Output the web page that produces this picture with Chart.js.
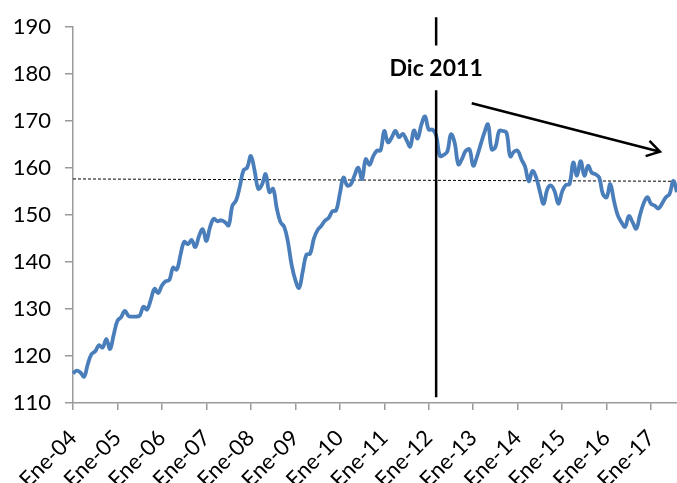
<!DOCTYPE html>
<html>
<head>
<meta charset="utf-8">
<script src="https://cdn.jsdelivr.net/npm/chart.js@4.4.1/dist/chart.umd.min.js"></script>
<style>
  html, body { margin: 0; padding: 0; background: #fff; overflow: hidden; }
</style>
</head>
<body>
<canvas id="grafico" width="677" height="483"></canvas>
<script>
// --- DATOS ---
const meses = ['Ene', 'Feb', 'Mar', 'Abr', 'May', 'Jun', 'Jul', 'Ago', 'Sep', 'Oct', 'Nov', 'Dic'];
const anios = ['04', '05', '06', '07', '08', '09', '10', '11', '12', '13', '14', '15', '16', '17'];
const ultimoMes = 7; // Ago-17

// índice mensual (Ene-04 .. Ago-17)
const valores = [
    116.3, 116.9, 116.5, 115.6, 118.3, 120.4, 121.0, 122.3, 121.8, 123.6, 121.5, 124.6,
    127.5, 128.3, 129.6, 128.5, 128.4, 128.4, 128.6, 130.5, 129.9, 132.0, 134.3, 133.4,
    135.0, 135.9, 136.2, 138.8, 138.4, 141.5, 144.3, 143.8, 144.7, 143.2, 145.5, 147.0,
    144.5, 147.5, 149.2, 148.7, 148.9, 148.5, 147.8, 152.0, 153.1, 156.0, 159.5, 160.1,
    162.6, 159.5, 155.6, 156.5, 158.7, 154.9, 155.6, 151.4, 148.5, 147.5, 144.3, 139.4,
    136.2, 134.5, 138.0, 141.6, 141.8, 145.0, 146.8, 147.7, 148.8, 149.4, 150.8, 151.0,
    154.5, 158.0, 156.3, 156.6, 158.5, 160.1, 157.7, 161.9, 160.7, 162.5, 163.7, 163.8,
    167.9, 165.5, 166.5, 167.9, 166.6, 167.3, 166.0, 164.6, 168.0, 166.3, 169.2, 171.0,
    168.2, 168.2, 167.0, 162.6, 162.8, 163.5, 167.2, 165.4, 160.8, 162.0, 163.7, 164.0,
    160.5, 162.4, 165.0, 167.5, 169.3, 164.0, 164.5, 167.9, 167.9, 167.5, 162.5, 163.5,
    163.7, 161.9, 160.3, 157.2, 159.4, 158.0, 155.0, 152.4, 155.5, 156.3, 155.0, 152.4,
    155.0, 156.4, 156.6, 161.2, 158.4, 161.5, 158.4, 160.5, 159.0, 158.7, 158.0, 154.5,
    153.8, 156.6, 153.0, 150.0, 148.5, 147.5, 149.8, 148.5, 147.1, 150.0, 152.5, 153.8,
    152.4, 152.0, 151.4, 152.5, 153.8, 154.5, 157.3, 154.9
];

// línea punteada de referencia (inicio y fin)
const nivelInicio = 157.7;
const nivelFin = 157.2;

// marca vertical "Dic 2011" y flecha de tendencia (en unidades de datos)
const textoMarca = 'Dic 2011';
const indiceMarca = 98;
const flechaDesde = { x: 107.6, y: 173.8 };
const flechaHasta = { x: 158.4, y: 163.5 };

const yMin = 110, yMax = 190, yPaso = 10;

// --- ETIQUETAS ---
const etiquetas = [];
anios.forEach((a, k) => {
    meses.forEach((m, j) => {
        if (k === anios.length - 1 && j > ultimoMes) return;
        etiquetas.push(m + '-' + a);
    });
});

const referencia = etiquetas.map((_, i) => {
    if (i === 0) return nivelInicio;
    if (i === etiquetas.length - 1) return nivelFin;
    return null;
});

const FUENTE = 'Lato, "Open Sans", sans-serif';
const GRIS = '#9a9a9a';

// --- PLUGIN: marca vertical + texto + flecha ---
const anotaciones = {
    id: 'anotaciones',
    afterDatasetsDraw(chart) {
        const ctx = chart.ctx;
        const x = chart.scales.x;
        const y = chart.scales.y;
        ctx.save();

        // línea vertical con hueco para el texto
        const px = x.getPixelForValue(indiceMarca);
        ctx.strokeStyle = '#000';
        ctx.lineWidth = 2.5;
        ctx.beginPath();
        ctx.moveTo(px, y.getPixelForValue(192.1));
        ctx.lineTo(px, y.getPixelForValue(186.1));
        ctx.moveTo(px, y.getPixelForValue(176.6));
        ctx.lineTo(px, y.getPixelForValue(111.2));
        ctx.stroke();

        ctx.fillStyle = '#000';
        ctx.font = 'bold 23px ' + FUENTE;
        ctx.textAlign = 'center';
        ctx.textBaseline = 'middle';
        ctx.fillText(textoMarca, px, y.getPixelForValue(181.2));

        // flecha
        const x1 = x.getPixelForValue(flechaDesde.x), y1 = y.getPixelForValue(flechaDesde.y);
        const x2 = x.getPixelForValue(flechaHasta.x), y2 = y.getPixelForValue(flechaHasta.y);
        const ang = Math.atan2(y2 - y1, x2 - x1);
        const largo = 15;
        ctx.lineWidth = 2.5;
        ctx.beginPath();
        ctx.moveTo(x1, y1);
        ctx.lineTo(x2, y2);
        ctx.moveTo(x2 - largo * Math.cos(ang - 0.55), y2 - largo * Math.sin(ang - 0.55));
        ctx.lineTo(x2, y2);
        ctx.lineTo(x2 - largo * Math.cos(ang + 0.55), y2 - largo * Math.sin(ang + 0.55));
        ctx.stroke();

        ctx.restore();
    }
};

new Chart(document.getElementById('grafico').getContext('2d'), {
    type: 'line',
    data: {
        labels: etiquetas,
        datasets: [{
            data: valores,
            borderColor: '#4a7ebb',
            borderWidth: 3.8,
            pointRadius: 0,
            tension: 0.4,
            fill: false
        }, {
            data: referencia,
            borderColor: '#000',
            borderWidth: 1,
            borderDash: [3, 2],
            pointRadius: 0,
            spanGaps: true,
            tension: 0,
            fill: false
        }]
    },
    options: {
        responsive: false,
        animation: false,
        layout: { padding: { top: 23, right: 0, left: 0, bottom: 0 } },
        plugins: { legend: { display: false }, tooltip: { enabled: false } },
        scales: {
            x: {
                offset: false,
                afterFit: (s) => { s.height = 80; s.paddingRight = 0; },
                border: { display: true, color: GRIS, width: 1.5 },
                grid: {
                    drawOnChartArea: false,
                    drawTicks: true,
                    tickLength: 7,
                    // marca sólo donde hay etiqueta (enero)
                    color: (c) => (c.tick && c.tick.label ? GRIS : 'rgba(0,0,0,0)'),
                    lineWidth: 1.5
                },
                ticks: {
                    autoSkip: false,
                    maxRotation: 45,
                    minRotation: 45,
                    padding: 15,
                    color: '#000',
                    font: { family: FUENTE, size: 22 },
                    callback: function (v, i) { return i % 12 === 0 ? this.getLabelForValue(v) : null; }
                }
            },
            y: {
                min: yMin,
                max: yMax,
                afterFit: (s) => { s.width = 73; },
                border: { display: true, color: GRIS, width: 1.5 },
                grid: { drawOnChartArea: false, drawTicks: true, tickLength: 8, color: GRIS, lineWidth: 1.5 },
                ticks: {
                    stepSize: yPaso,
                    padding: 14,
                    color: '#000',
                    font: { family: FUENTE, size: 22 }
                }
            }
        }
    },
    plugins: [anotaciones]
});
</script>
</body>
</html>
